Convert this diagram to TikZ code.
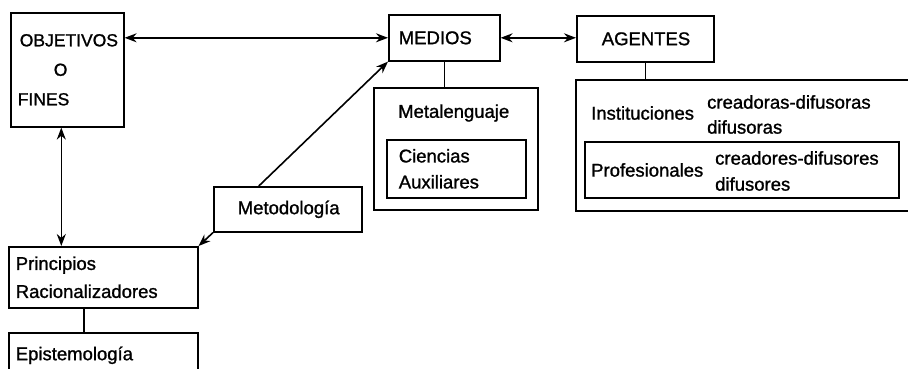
\documentclass[tikz,border=0pt]{standalone}
\usepackage{fontspec}
\setmainfont{Liberation Sans}[BoldFont=Liberation Sans,BoldFeatures={FakeBold=1.2}]
\usetikzlibrary{arrows.meta}

\begin{document}
\begin{tikzpicture}[x=1pt,y=-1pt]
	\tikzstyle{every node}=[inner sep=0pt,font=\fontsize{18.5}{26}\bfseries]
	\tikzstyle{caja}=[draw,line width=1.6pt,anchor=north west,align=left]
	\tikzstyle{texto}=[anchor=west,align=left]
	\tikzstyle{linea}=[line width=1.6pt]
	\tikzstyle{flecha}=[linea,-{Stealth[length=12pt,width=9pt]}]
	\tikzstyle{flechas}=[linea,{Stealth[length=12pt,width=9pt]}-{Stealth[length=12pt,width=9pt]}]
	
	\useasboundingbox (0,0) rectangle (908,368);
	\clip (0,0) rectangle (908,368);
	
	% cajas
	\node[caja,text width=99pt,inner xsep=7pt,minimum height=114pt,
		font=\fontsize{17.5}{29.5}\bfseries] (obj) at (10,12)
		{\hspace*{2pt}\mbox{OBJETIVOS}\\\hspace*{36pt}O\\FINES};
	\node[caja,text width=91pt,inner xsep=10pt,minimum height=46pt] (medios) at (388,14) {MEDIOS};
	\node[caja,text width=87pt,inner xsep=25pt,minimum height=46pt] (agentes) at (576,15) {AGENTES};
	\node[caja,text width=100pt,inner xsep=24pt,minimum height=45pt] (metod) at (213,186) {Metodología};
	\node[caja,text width=175pt,inner xsep=7pt,minimum height=61pt,
		font=\fontsize{18.5}{28}\bfseries] (princ) at (8,246) {Principios\\Racionalizadores};
	\node[caja,text width=175pt,inner xsep=7pt,minimum height=45pt] (epist) at (8,332) {Epistemología};
	
	% medios
	\node[caja,minimum width=164pt,minimum height=122pt] (metal) at (373,87) {};
	\node[texto] (tmetal) at (398,113) {Metalenguaje};
	\node[caja,text width=115pt,inner xsep=12pt,minimum height=58pt] (cienc) at (386,139) {Ciencias\\Auxiliares};
	
	% agentes
	\node[caja,minimum width=340pt,minimum height=131pt] (agbox) at (575,79) {};
	\node[texto] (tinst) at (591,113) {Instituciones};
	\node[texto,font=\fontsize{18.5}{25}\bfseries] (tcrea) at (707,114.5) {creadoras-difusoras\\difusoras};
	\node[caja,minimum width=314pt,minimum height=56pt] (prof) at (584,141) {};
	\node[texto] (tprof) at (591,170) {Profesionales};
	\node[texto] (tcreo) at (715,171) {creadores-difusores\\difusores};
	
	% conexiones
	\draw[flechas] (obj.north east |- medios.west) -- (medios.west);
	\draw[flechas] (medios.east) -- (agentes.west |- medios.east);
	\draw[linea] (medios.south) -- (medios.south |- metal.north);
	\draw[linea] (agentes.south) -- (agentes.south |- agbox.north);
	\draw[flechas] ([xshift=-6pt]obj.south) -- ([xshift=-6pt]obj.south |- princ.north);
	\draw[flecha] ([xshift=-29pt]metod.north) -- (medios.south west);
	\draw[flecha] (metod.south west) -- (princ.north east);
	\draw[linea] ([xshift=-19.5pt]princ.south) -- ([xshift=-19.5pt]princ.south |- epist.north);
\end{tikzpicture}
\end{document}
